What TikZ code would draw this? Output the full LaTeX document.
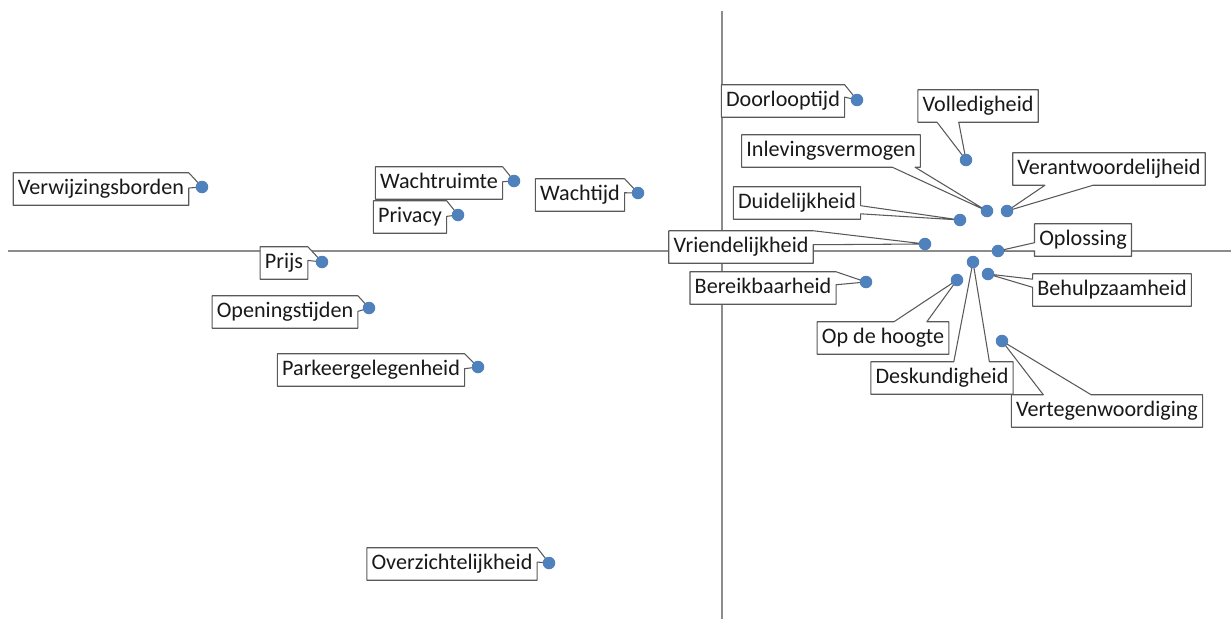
\documentclass[tikz,border=0pt]{standalone}
\usepackage{fontspec}
\setmainfont{Carlito}
\usepackage{xcolor}
\usepackage{tikz}
\usetikzlibrary{calc, backgrounds}
\definecolor{pointblue}{HTML}{4F81BD}

\begin{document}
\begin{tikzpicture}[x=0.02cm, y=-0.02cm]
\tikzstyle{axisline} = [draw=black!45, line width=0.6pt]
\tikzstyle{datalabel} = [rectangle, outer sep=0pt, text=black!90, font=\fontsize{12.6}{14}\selectfont, inner xsep=2.7pt, text height=9pt, text depth=2.5pt, minimum height=0.65cm]
\tikzstyle{labelframe} = [draw=black!65, fill=white, line width=0.6pt, line join=round]
\tikzstyle{datapoint} = [fill=pointblue]

\useasboundingbox (0,0) rectangle (1231,619);

% axes ends
\coordinate (xleft) at (8,251);
\coordinate (xright) at (1231,251);
\coordinate (ytop) at (722,11);
\coordinate (ybot) at (722,619);

% data points
\coordinate (pDoor) at (857,100);
\coordinate (pVol) at (966,160);
\coordinate (pInl) at (987,211);
\coordinate (pVer) at (1007,211);
\coordinate (pDui) at (960,220);
\coordinate (pVri) at (925,244);
\coordinate (pOpl) at (998,251);
\coordinate (pBer) at (866,282);
\coordinate (pBeh) at (988,274);
\coordinate (pHoo) at (957,280);
\coordinate (pDes) at (973,262);
\coordinate (pVtg) at (1002,341);
\coordinate (pOve) at (549,563);
\coordinate (pVrw) at (202,187);
\coordinate (pWru) at (514,181);
\coordinate (pPri) at (458,215);
\coordinate (pWtd) at (638,193);
\coordinate (pPrs) at (322,262);
\coordinate (pOpe) at (369,308);
\coordinate (pPar) at (478,367);

% labels
\node (lDoor) [datalabel] at (783,101) {Doorlooptijd};
\node (lVol) [datalabel] at (978,106) {Volledigheid};
\node (lInl) [datalabel] at (831,151) {Inlevingsvermogen};
\node (lVer) [datalabel] at (1109,169) {Verantwoordelijheid};
\node (lDui) [datalabel] at (797,203) {Duidelijkheid};
\node (lVri) [datalabel] at (741,247) {Vriendelijkheid};
\node (lOpl) [datalabel] at (1083,240) {Oplossing};
\node (lBer) [datalabel] at (763,288) {Bereikbaarheid};
\node (lBeh) [datalabel] at (1112,290) {Behulpzaamheid};
\node (lHoo) [datalabel] at (883,338) {Op de hoogte};
\node (lDes) [datalabel] at (942,378) {Deskundigheid};
\node (lVtg) [datalabel] at (1107,411) {Vertegenwoordiging};
\node (lOve) [datalabel] at (452,564) {Overzichtelijkheid};
\node (lVrw) [datalabel] at (101,189) {Verwijzingsborden};
\node (lWru) [datalabel] at (439,183) {Wachtruimte};
\node (lPri) [datalabel] at (410,217) {Privacy};
\node (lWtd) [datalabel] at (580,195) {Wachtijd};
\node (lPrs) [datalabel] at (284,263) {Prijs};
\node (lOpe) [datalabel] at (285,312) {Openingstijden};
\node (lPar) [datalabel] at (371,370) {Parkeergelegenheid};

\begin{scope}[on background layer]
\draw[axisline] (xleft) -- (xright);
\draw[axisline] (ytop) -- (ybot);

% callout frames, wedge from the frame to its point
\filldraw[labelframe] (lDoor.north west) -- (lDoor.north east) -- (pDoor) -- ($(lDoor.north east)!0.38!(lDoor.south east)$) -- (lDoor.south east) -- (lDoor.south west) -- cycle;
\filldraw[labelframe] (lVol.north west) -- (lVol.north east) -- (lVol.south east) -- ($(lVol.south east)!0.66!(lVol.south west)$) -- (pVol) -- ($(lVol.south east)!0.84!(lVol.south west)$) -- (lVol.south west) -- cycle;
\filldraw[labelframe] (lInl.north west) -- (lInl.north east) -- (lInl.south east) -- ($(lInl.south east)!0.03!(lInl.south west)$) -- (pInl) -- ($(lInl.south east)!0.157!(lInl.south west)$) -- (lInl.south west) -- cycle;
\filldraw[labelframe] (lVer.north west) -- (lVer.north east) -- (lVer.south east) -- ($(lVer.south east)!0.583!(lVer.south west)$) -- (pVer) -- ($(lVer.south east)!0.833!(lVer.south west)$) -- (lVer.south west) -- cycle;
\filldraw[labelframe] (lDui.north west) -- (lDui.north east) -- ($(lDui.north east)!0.583!(lDui.south east)$) -- (pDui) -- ($(lDui.north east)!0.833!(lDui.south east)$) -- (lDui.south east) -- (lDui.south west) -- cycle;
\filldraw[labelframe] (lVri.north west) -- (lVri.north east) -- (pVri) -- ($(lVri.north east)!0.43!(lVri.south east)$) -- (lVri.south east) -- (lVri.south west) -- cycle;
\filldraw[labelframe] (lOpl.north west) -- (lOpl.north east) -- (lOpl.south east) -- (lOpl.south west) -- ($(lOpl.south west)!0.167!(lOpl.north west)$) -- (pOpl) -- ($(lOpl.south west)!0.417!(lOpl.north west)$) -- cycle;
\filldraw[labelframe] (lBer.north west) -- (lBer.north east) -- (pBer) -- ($(lBer.north east)!0.4!(lBer.south east)$) -- (lBer.south east) -- (lBer.south west) -- cycle;
\filldraw[labelframe] (lBeh.north west) -- (lBeh.north east) -- (lBeh.south east) -- (lBeh.south west) -- ($(lBeh.south west)!0.583!(lBeh.north west)$) -- (pBeh) -- ($(lBeh.south west)!0.833!(lBeh.north west)$) -- cycle;
\filldraw[labelframe] (lHoo.north west) -- ($(lHoo.north west)!0.583!(lHoo.north east)$) -- (pHoo) -- ($(lHoo.north west)!0.833!(lHoo.north east)$) -- (lHoo.north east) -- (lHoo.south east) -- (lHoo.south west) -- cycle;
\filldraw[labelframe] (lDes.north west) -- ($(lDes.north west)!0.583!(lDes.north east)$) -- (pDes) -- ($(lDes.north west)!0.833!(lDes.north east)$) -- (lDes.north east) -- (lDes.south east) -- (lDes.south west) -- cycle;
\filldraw[labelframe] (lVtg.north west) -- ($(lVtg.north west)!0.167!(lVtg.north east)$) -- (pVtg) -- ($(lVtg.north west)!0.417!(lVtg.north east)$) -- (lVtg.north east) -- (lVtg.south east) -- (lVtg.south west) -- cycle;
\filldraw[labelframe] (lOve.north west) -- (lOve.north east) -- (pOve) -- ($(lOve.north east)!0.44!(lOve.south east)$) -- (lOve.south east) -- (lOve.south west) -- cycle;
\filldraw[labelframe] (lVrw.north west) -- (lVrw.north east) -- (pVrw) -- ($(lVrw.north east)!0.47!(lVrw.south east)$) -- (lVrw.south east) -- (lVrw.south west) -- cycle;
\filldraw[labelframe] (lWru.north west) -- (lWru.north east) -- (pWru) -- ($(lWru.north east)!0.46!(lWru.south east)$) -- (lWru.south east) -- (lWru.south west) -- cycle;
\filldraw[labelframe] (lPri.north west) -- (lPri.north east) -- (pPri) -- ($(lPri.north east)!0.48!(lPri.south east)$) -- (lPri.south east) -- (lPri.south west) -- cycle;
\filldraw[labelframe] (lWtd.north west) -- (lWtd.north east) -- (pWtd) -- ($(lWtd.north east)!0.43!(lWtd.south east)$) -- (lWtd.south east) -- (lWtd.south west) -- cycle;
\filldraw[labelframe] (lPrs.north west) -- (lPrs.north east) -- (pPrs) -- ($(lPrs.north east)!0.42!(lPrs.south east)$) -- (lPrs.south east) -- (lPrs.south west) -- cycle;
\filldraw[labelframe] (lOpe.north west) -- (lOpe.north east) -- (pOpe) -- ($(lOpe.north east)!0.48!(lOpe.south east)$) -- (lOpe.south east) -- (lOpe.south west) -- cycle;
\filldraw[labelframe] (lPar.north west) -- (lPar.north east) -- (pPar) -- ($(lPar.north east)!0.46!(lPar.south east)$) -- (lPar.south east) -- (lPar.south west) -- cycle;
\end{scope}

% dots on top
\foreach \p in {pDoor,pVol,pInl,pVer,pDui,pVri,pOpl,pBer,pBeh,pHoo,pDes,pVtg,pOve,pVrw,pWru,pPri,pWtd,pPrs,pOpe,pPar}
  \fill[datapoint] (\p) circle[radius=0.125cm];

\end{tikzpicture}
\end{document}
